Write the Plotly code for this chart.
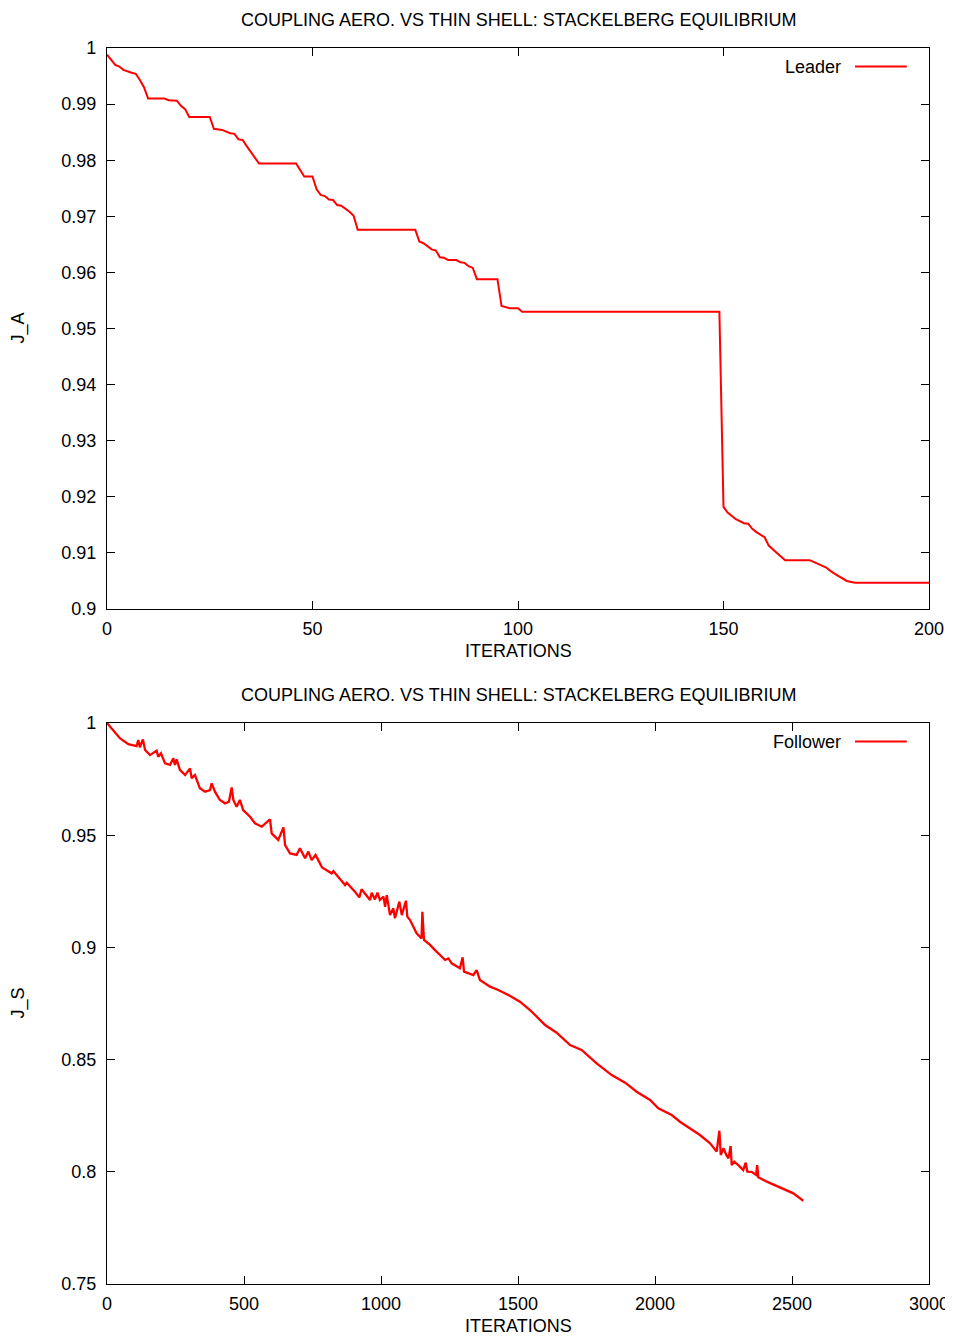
import plotly.graph_objects as go

# ---------------- data ----------------
leader_iter = [0, 2, 3, 4, 6, 7, 8, 9, 10, 14, 15, 17, 18, 19, 20, 25, 26, 28, 30, 31, 32, 33, 34, 35,
               37, 46, 48, 50, 51, 52, 53, 54, 55, 56, 57, 59, 60, 61, 75, 76, 77, 79, 80, 81, 82, 83,
               85, 86, 87, 88, 89, 90, 95, 96, 97, 98, 100, 101, 149, 150, 151, 153, 155, 156, 157,
               158, 160, 161, 163, 165, 171, 173, 175, 176, 177, 180, 182, 200]
leader_JA = [0.9988, 0.9970, 0.9967, 0.9961, 0.9956, 0.9954, 0.9943, 0.9930, 0.9910, 0.9910, 0.9907,
             0.9906, 0.9897, 0.9891, 0.9877, 0.9877, 0.9856, 0.9854, 0.9848, 0.9847, 0.9837, 0.9836,
             0.9825, 0.9815, 0.9794, 0.9794, 0.9771, 0.9771, 0.9748, 0.9738, 0.9736, 0.9730, 0.9729,
             0.9720, 0.9719, 0.9708, 0.9701, 0.9676, 0.9676, 0.9655, 0.9652, 0.9641, 0.9639, 0.9627,
             0.9626, 0.9622, 0.9622, 0.9618, 0.9617, 0.9611, 0.9608, 0.9588, 0.9588, 0.9540, 0.9538,
             0.9536, 0.9536, 0.9530, 0.9530, 0.9182, 0.9172, 0.9160, 0.9153, 0.9152, 0.9143, 0.9137,
             0.9128, 0.9113, 0.9100, 0.9087, 0.9087, 0.9081, 0.9074, 0.9068, 0.9063, 0.9050, 0.9047,
             0.9047]

follower_iter = [0, 17, 47, 78, 108, 114, 120, 131, 139, 157, 181, 187, 197, 212, 230, 242, 248, 254,
                 266, 285, 303, 309, 321, 339, 358, 376, 382, 394, 412, 431, 445, 455, 461, 473, 485,
                 497, 522, 540, 565, 595, 601, 625, 644, 650, 668, 692, 704, 723, 735, 747, 761, 771,
                 785, 820, 826, 869, 875, 905, 921, 929, 960, 966, 978, 987, 996, 1009, 1015, 1021,
                 1033, 1045, 1051, 1067, 1076, 1091, 1096, 1106, 1130, 1148, 1151, 1157, 1179, 1197,
                 1234, 1246, 1258, 1288, 1298, 1303, 1337, 1349, 1361, 1398, 1428, 1470, 1507, 1544,
                 1599, 1641, 1690, 1732, 1787, 1842, 1891, 1933, 1982, 2012, 2061, 2091, 2128, 2164,
                 2201, 2225, 2235, 2240, 2250, 2260, 2268, 2276, 2280, 2289, 2304, 2322, 2331, 2337,
                 2353, 2369, 2373, 2377, 2408, 2456, 2505, 2541]
follower_JS = [1.0000, 0.9976, 0.9932, 0.9906, 0.9897, 0.9924, 0.9892, 0.9927, 0.9880, 0.9857, 0.9877,
               0.9850, 0.9865, 0.9820, 0.9813, 0.9843, 0.9813, 0.9838, 0.9791, 0.9768, 0.9798, 0.9754,
               0.9768, 0.9709, 0.9694, 0.9701, 0.9731, 0.9694, 0.9657, 0.9642, 0.9649, 0.9713, 0.9657,
               0.9627, 0.9657, 0.9612, 0.9582, 0.9553, 0.9538, 0.9571, 0.9508, 0.9479, 0.9535, 0.9456,
               0.9419, 0.9412, 0.9442, 0.9397, 0.9427, 0.9389, 0.9412, 0.9389, 0.9356, 0.9330, 0.9340,
               0.9278, 0.9288, 0.9248, 0.9223, 0.9259, 0.9211, 0.9244, 0.9214, 0.9244, 0.9211, 0.9226,
               0.9181, 0.9233, 0.9144, 0.9174, 0.9130, 0.9204, 0.9144, 0.9208, 0.9137, 0.9122, 0.9063,
               0.9040, 0.9159, 0.9033, 0.9011, 0.8988, 0.8944, 0.8951, 0.8929, 0.8907, 0.8956, 0.8892,
               0.8877, 0.8899, 0.8855, 0.8825, 0.8810, 0.8785, 0.8758, 0.8721, 0.8654, 0.8620, 0.8565,
               0.8543, 0.8483, 0.8431, 0.8397, 0.8357, 0.8320, 0.8283, 0.8253, 0.8223, 0.8194, 0.8164,
               0.8127, 0.8090, 0.8183, 0.8075, 0.8105, 0.8075, 0.8060, 0.8115, 0.8030, 0.8045, 0.8030,
               0.8008, 0.8041, 0.8001, 0.8000, 0.7986, 0.8030, 0.7976, 0.7956, 0.7931, 0.7904, 0.7871]

title_text = "COUPLING AERO. VS THIN SHELL: STACKELBERG EQUILIBRIUM"
xlabel = "ITERATIONS"
top_xticks = [0, 50, 100, 150, 200]
top_yticks = [0.9, 0.91, 0.92, 0.93, 0.94, 0.95, 0.96, 0.97, 0.98, 0.99, 1.0]
top_yticklabels = ["0.9", "0.91", "0.92", "0.93", "0.94", "0.95", "0.96", "0.97", "0.98", "0.99", "1"]
bot_xticks = [0, 500, 1000, 1500, 2000, 2500, 3000]
bot_yticks = [0.75, 0.8, 0.85, 0.9, 0.95, 1.0]
bot_yticklabels = ["0.75", "0.8", "0.85", "0.9", "0.95", "1"]

# ---------------- figure ----------------
# page body adds an 8px margin; keep the page within the window to avoid scrollbars
W, H = 945, 1327
ML, MR, MT, MB = 99, 24, 40, 51
ph = H - MT - MB
top_dom = [(1284 - 609) / ph, 1.0]
bot_dom = [0.0, (1284 - 723) / ph]

FONT = "Liberation Sans, Arial, sans-serif"
FS = 18
RED = "#ff0000"

fig = go.Figure()
fig.add_trace(go.Scatter(x=leader_iter, y=leader_JA, mode="lines", name="Leader",
                         line=dict(color=RED, width=2), xaxis="x", yaxis="y", showlegend=False))
fig.add_trace(go.Scatter(x=follower_iter, y=follower_JS, mode="lines", name="Follower",
                         line=dict(color=RED, width=2.3), xaxis="x2", yaxis="y2", showlegend=False))

axis_common = dict(showline=True, linecolor="black", linewidth=1.3, mirror="ticks",
                   ticks="inside", ticklen=8, tickwidth=1.3, tickcolor="black",
                   ticklabeloverflow="allow",
                   showgrid=False, zeroline=False, tickfont=dict(family=FONT, size=FS, color="black"))

fig.update_layout(
    width=W, height=H, paper_bgcolor="white", plot_bgcolor="white",
    margin=dict(l=ML, r=MR, t=MT, b=MB, autoexpand=False),
    font=dict(family=FONT, size=FS, color="black"),
    xaxis=dict(domain=[0, 1], anchor="y", range=[0, 200], tickvals=top_xticks,
               ticklabelstandoff=3, **axis_common),
    yaxis=dict(domain=top_dom, anchor="x", range=[0.9, 1.0], tickvals=top_yticks,
               ticktext=top_yticklabels, ticklabelstandoff=6, **axis_common),
    xaxis2=dict(domain=[0, 1], anchor="y2", range=[0, 3000], tickvals=bot_xticks,
                ticklabelstandoff=3, **axis_common),
    yaxis2=dict(domain=bot_dom, anchor="x2", range=[0.75, 1.0], tickvals=bot_yticks,
                ticktext=bot_yticklabels, ticklabelstandoff=6, **axis_common),
)

annotations = []
shapes = []
for xa, ya, ylab, legname in [("x", "y", "J_A", "Leader"), ("x2", "y2", "J_S", "Follower")]:
    xd = xa + " domain"
    yd = ya + " domain"
    annotations.append(dict(text=title_text, xref=xd, yref=yd, x=0.5, y=1, yshift=28,
                            xanchor="center", yanchor="middle", showarrow=False,
                            font=dict(family=FONT, size=FS)))
    annotations.append(dict(text=xlabel, xref=xd, yref=yd, x=0.5, y=0, yshift=-42,
                            xanchor="center", yanchor="middle", showarrow=False,
                            font=dict(family=FONT, size=FS)))
    annotations.append(dict(text=ylab, xref=xd, yref=yd, x=0, y=0.5, xshift=-89,
                            xanchor="center", yanchor="middle", textangle=-90, showarrow=False,
                            font=dict(family=FONT, size=FS)))
    # gnuplot-style key: text then line sample
    annotations.append(dict(text=legname, xref=xd, yref=yd, x=0.895, y=0.967,
                            xanchor="right", yanchor="middle", showarrow=False,
                            font=dict(family=FONT, size=FS)))
    shapes.append(dict(type="line", xref=xd, yref=yd, x0=0.910, x1=0.973, y0=0.967, y1=0.967,
                       line=dict(color=RED, width=1.8)))

fig.update_layout(annotations=annotations, shapes=shapes)
fig.write_html("out.html")
